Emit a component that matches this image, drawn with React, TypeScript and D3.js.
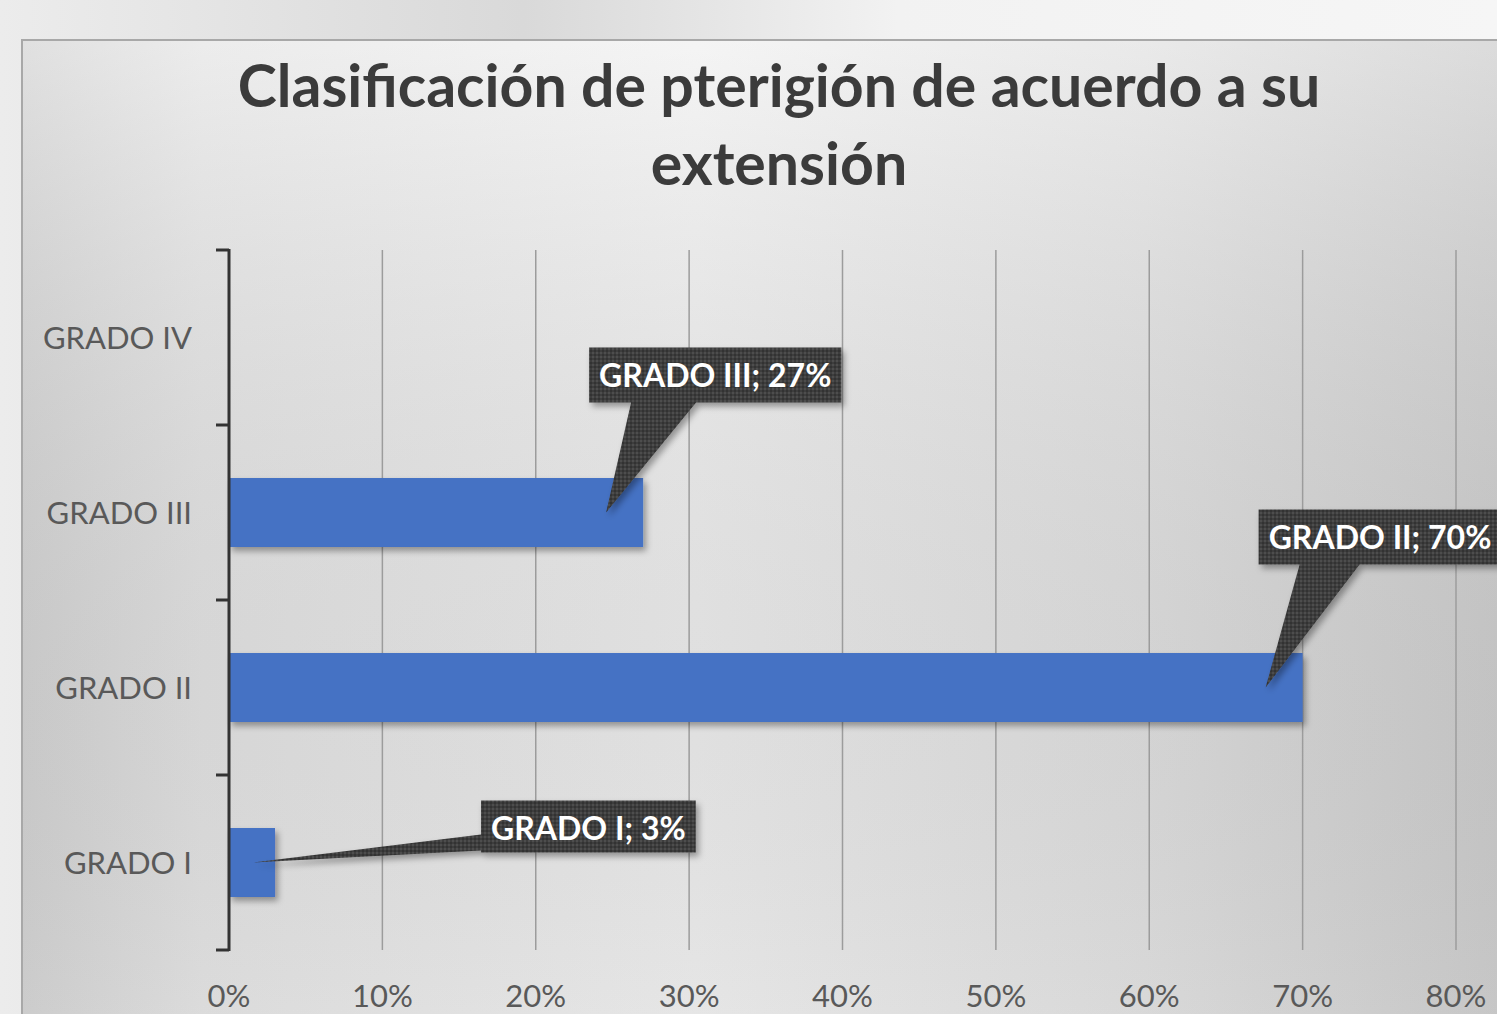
import { useRef, useEffect } from 'react';
import * as d3 from 'd3';

// chart data
const categories = ["GRADO I", "GRADO II", "GRADO III", "GRADO IV"];
const values = [0.03, 0.70, 0.27, 0];
const labelled = [true, true, true, false];
const xTicks = [0, 0.1, 0.2, 0.3, 0.4, 0.5, 0.6, 0.7, 0.8];
const titleLines = ["Clasificación de pterigión de acuerdo a su", "extensión"];

// callout layout (box offset from bar end / band centre, pointer base along box)
const calloutLayout: Record<string, { dx: number; dy: number; side: 'bottom' | 'left'; b0: number; b1: number; tip: number }> = {
  "GRADO III": { dx: -54, dy: -165, side: 'bottom', b0: 42, b1: 107, tip: -37 },
  "GRADO II": { dx: -44, dy: -178, side: 'bottom', b0: 41, b1: 101, tip: -37 },
  "GRADO I": { dx: 206, dy: -62, side: 'left', b0: 34, b1: 50, tip: -22 },
};

const W = 1497, H = 1014;
const FONT = "Lato, 'Open Sans', sans-serif";

export default function App() {
  const svgRef = useRef<SVGSVGElement | null>(null);

  useEffect(() => {
    const svg = d3.select(svgRef.current);
    svg.selectAll("*").remove();
    svg.attr("width", W).attr("height", H);

    const defs = svg.append("defs");

    // page background
    const bg = defs.append("linearGradient").attr("id", "bg").attr("x1", 0).attr("x2", 1).attr("y1", 0).attr("y2", 0);
    bg.append("stop").attr("offset", "0%").attr("stop-color", "#ececec");
    bg.append("stop").attr("offset", "35%").attr("stop-color", "#d9d9d9");
    bg.append("stop").attr("offset", "60%").attr("stop-color", "#f2f2f2");
    bg.append("stop").attr("offset", "100%").attr("stop-color", "#f6f6f6");

    // panel gradient
    const pg = defs.append("linearGradient").attr("id", "panel").attr("x1", 0).attr("x2", 1).attr("y1", 0).attr("y2", 0);
    pg.append("stop").attr("offset", "0%").attr("stop-color", "#d6d6d6");
    pg.append("stop").attr("offset", "12%").attr("stop-color", "#e6e6e6");
    pg.append("stop").attr("offset", "45%").attr("stop-color", "#f1f1f1");
    pg.append("stop").attr("offset", "75%").attr("stop-color", "#e3e3e3");
    pg.append("stop").attr("offset", "100%").attr("stop-color", "#cfcfcf");

    const pv = defs.append("linearGradient").attr("id", "panelV").attr("x1", 0).attr("x2", 0).attr("y1", 0).attr("y2", 1);
    pv.append("stop").attr("offset", "0%").attr("stop-color", "#ffffff").attr("stop-opacity", 0.25);
    pv.append("stop").attr("offset", "100%").attr("stop-color", "#000000").attr("stop-opacity", 0.04);

    // dotted texture for callouts
    const pat = defs.append("pattern").attr("id", "dots").attr("width", 4).attr("height", 4).attr("patternUnits", "userSpaceOnUse");
    pat.append("rect").attr("width", 4).attr("height", 4).attr("fill", "#3d3d3d");
    pat.append("circle").attr("cx", 1).attr("cy", 1).attr("r", 0.9).attr("fill", "#555555");
    pat.append("circle").attr("cx", 3).attr("cy", 3).attr("r", 0.9).attr("fill", "#2b2b2b");

    const sh = defs.append("filter").attr("id", "shadow").attr("x", "-10%").attr("y", "-20%").attr("width", "130%").attr("height", "160%");
    sh.append("feDropShadow").attr("dx", 3).attr("dy", 4).attr("stdDeviation", 3).attr("flood-color", "#000").attr("flood-opacity", 0.35);

    svg.append("rect").attr("width", W).attr("height", H).attr("fill", "url(#bg)");

    // chart panel
    svg.append("rect").attr("x", 22).attr("y", 40).attr("width", W).attr("height", H)
      .attr("fill", "url(#panel)").attr("stroke", "#a8a8a8").attr("stroke-width", 2);
    svg.append("rect").attr("x", 23).attr("y", 41).attr("width", W).attr("height", H).attr("fill", "url(#panelV)");

    // title
    svg.append("text")
      .attr("x", 779).attr("y", 107)
      .attr("text-anchor", "middle")
      .style("font-family", FONT).style("font-weight", 700).style("font-size", "59px")
      .attr("fill", "#3b3b3b")
      .selectAll("tspan").data(titleLines).join("tspan")
      .attr("x", 779).attr("dy", (d, i) => i === 0 ? 0 : 78)
      .text(d => d);

    const margin = { top: 250, left: 229, right: 41, bottom: 64 };
    const xScale = d3.scaleLinear().domain([0, 0.8]).range([margin.left, W - margin.right]);
    const yScale = d3.scaleBand<string>()
      .domain([...categories].reverse())
      .range([margin.top, H - margin.bottom])
      .paddingInner(0.606)
      .paddingOuter(0.303);

    const y0 = margin.top, y1 = H - margin.bottom;

    // vertical gridlines
    svg.append("g").selectAll("line").data(xTicks.slice(1)).join("line")
      .attr("x1", d => xScale(d)).attr("x2", d => xScale(d))
      .attr("y1", y0).attr("y2", y1)
      .attr("stroke", "#9c9c9c").attr("stroke-width", 1.5);

    // x tick labels
    svg.append("g").selectAll("text").data(xTicks).join("text")
      .attr("x", d => xScale(d)).attr("y", 1007)
      .attr("text-anchor", "middle")
      .style("font-family", FONT).style("font-size", "31px")
      .attr("fill", "#595959")
      .text(d => d3.format(".0%")(d));

    // bars
    svg.append("g").selectAll("rect").data(categories.map((c, i) => ({ c, v: values[i] })).filter(d => d.v > 0)).join("rect")
      .attr("x", xScale(0))
      .attr("y", d => yScale(d.c)!)
      .attr("width", d => xScale(d.v) - xScale(0))
      .attr("height", yScale.bandwidth())
      .attr("fill", "#4472c4")
      .attr("filter", "url(#shadow)");

    // y axis with outward ticks
    const step = yScale.step();
    const tickYs = d3.range(categories.length + 1).map(i => y0 + i * step);
    svg.append("line").attr("x1", xScale(0)).attr("x2", xScale(0)).attr("y1", y0 - 1).attr("y2", y1 + 1)
      .attr("stroke", "#333333").attr("stroke-width", 3);
    svg.append("g").selectAll("line").data(tickYs).join("line")
      .attr("x1", xScale(0) - 13).attr("x2", xScale(0))
      .attr("y1", d => d).attr("y2", d => d)
      .attr("stroke", "#333333").attr("stroke-width", 3);

    // y labels
    svg.append("g").selectAll("text").data(categories).join("text")
      .attr("x", 192).attr("y", d => yScale(d)! + yScale.bandwidth() / 2)
      .attr("dy", "0.36em")
      .attr("text-anchor", "end")
      .style("font-family", FONT).style("font-size", "31px")
      .attr("fill", "#595959")
      .text(d => d);

    // callouts
    categories.forEach((c, i) => {
      if (!labelled[i]) return;
      const lay = calloutLayout[c];
      const barEnd = xScale(values[i]);
      const cy = yScale(c)! + yScale.bandwidth() / 2;
      const g = svg.append("g").attr("filter", "url(#shadow)");
      const bx = barEnd + lay.dx, by = cy + lay.dy;
      const txt = svg.append("text")
        .attr("x", bx + 10).attr("y", by + 28)
        .attr("dy", "0.36em")
        .style("font-family", FONT).style("font-weight", 700).style("font-size", "32px")
        .attr("fill", "#ffffff")
        .text(`${c}; ${d3.format(".0%")(values[i])}`);
      const tw = (txt.node() as SVGTextElement).getComputedTextLength();
      const bw = tw + 20, bh = lay.side === 'bottom' ? 55 : 52;
      const tipX = barEnd + lay.tip;
      const tipY = cy;
      const pts: [number, number][] = lay.side === 'bottom'
        ? [[bx, by], [bx + bw, by], [bx + bw, by + bh], [bx + lay.b1, by + bh], [tipX, tipY], [bx + lay.b0, by + bh], [bx, by + bh]]
        : [[bx, by], [bx + bw, by], [bx + bw, by + bh], [bx, by + bh], [bx, by + lay.b1], [tipX, tipY], [bx, by + lay.b0]];
      g.append("path")
        .attr("d", d3.line()(pts) + "Z")
        .attr("fill", "url(#dots)");
      txt.raise();
    });
  }, []);

  return (
    <div style={{ position: 'fixed', left: 0, top: 0 }}>
      <svg ref={svgRef} style={{ display: 'block' }}></svg>
    </div>
  );
}
